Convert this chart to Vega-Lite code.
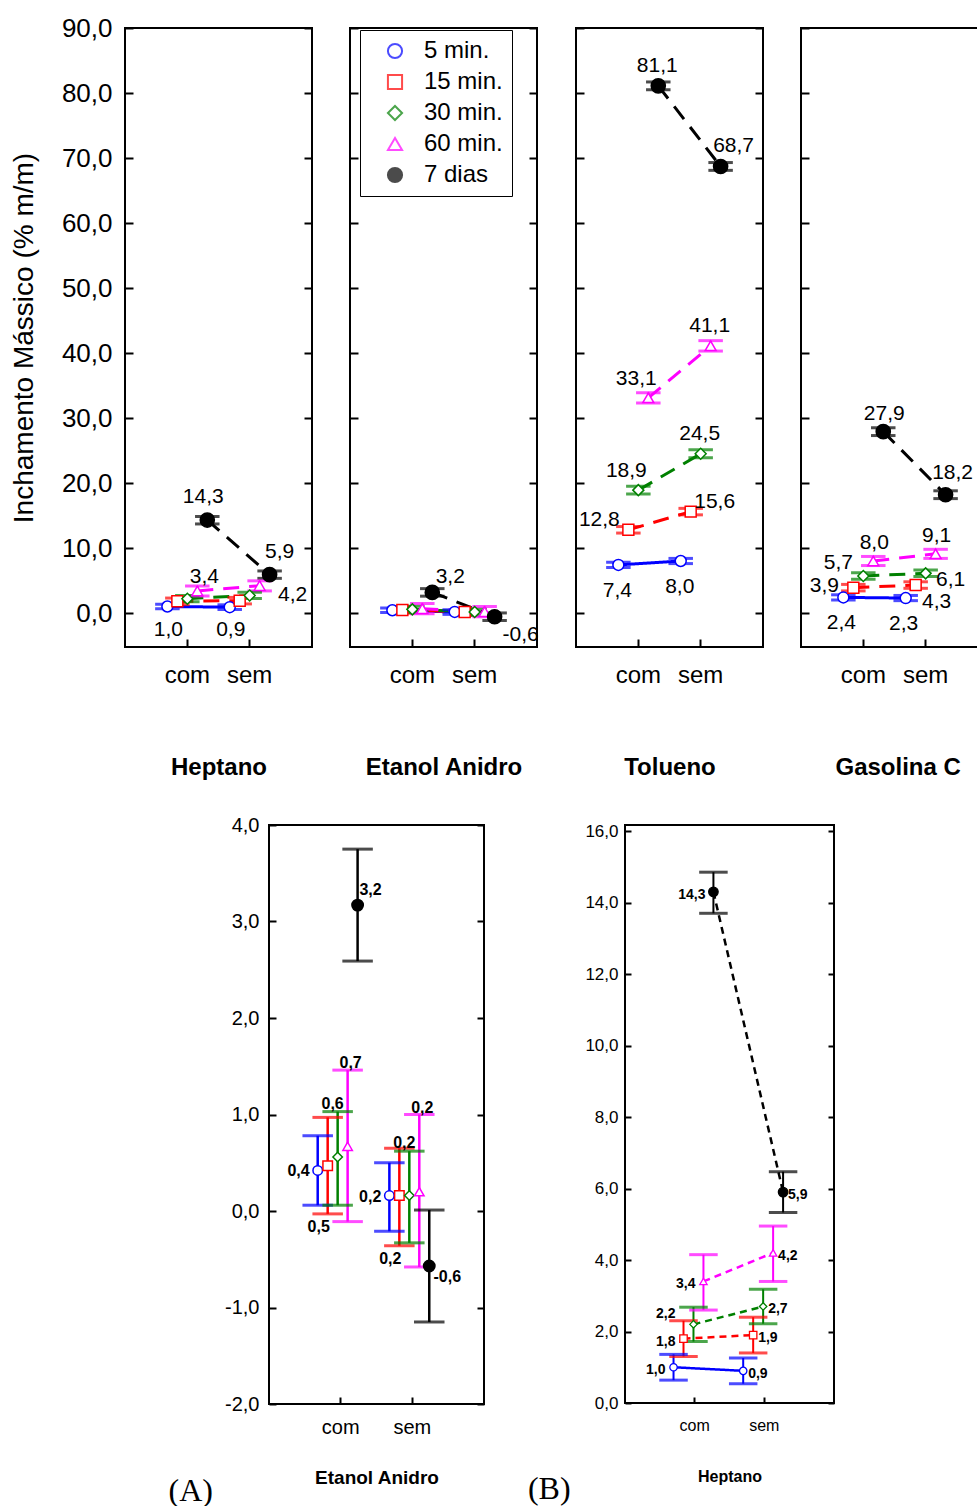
{
  "$schema": "https://vega.github.io/schema/vega-lite/v6.json",
  "background": "white",
  "padding": {"left": 9, "top": 14, "right": 0, "bottom": 0},
  "datasets": {
    "topo": [
      {"painel": "Heptano", "serie": "5 min.", "cond": "com", "valor": 1.0, "min": 0.64, "max": 1.36},
      {"painel": "Heptano", "serie": "5 min.", "cond": "sem", "valor": 0.9, "min": 0.54, "max": 1.26},
      {"painel": "Heptano", "serie": "15 min.", "cond": "com", "valor": 1.8, "min": 1.3, "max": 2.3},
      {"painel": "Heptano", "serie": "15 min.", "cond": "sem", "valor": 1.9, "min": 1.4, "max": 2.4},
      {"painel": "Heptano", "serie": "30 min.", "cond": "com", "valor": 2.2, "min": 1.72, "max": 2.68},
      {"painel": "Heptano", "serie": "30 min.", "cond": "sem", "valor": 2.7, "min": 2.22, "max": 3.18},
      {"painel": "Heptano", "serie": "60 min.", "cond": "com", "valor": 3.4, "min": 2.6, "max": 4.15},
      {"painel": "Heptano", "serie": "60 min.", "cond": "sem", "valor": 4.2, "min": 3.4, "max": 4.95},
      {"painel": "Heptano", "serie": "7 dias", "cond": "com", "valor": 14.3, "min": 13.7, "max": 14.85},
      {"painel": "Heptano", "serie": "7 dias", "cond": "sem", "valor": 5.9, "min": 5.33, "max": 6.47},
      {"painel": "Etanol Anidro", "serie": "5 min.", "cond": "com", "valor": 0.42, "min": 0.06, "max": 0.78},
      {"painel": "Etanol Anidro", "serie": "5 min.", "cond": "sem", "valor": 0.16, "min": -0.21, "max": 0.5},
      {"painel": "Etanol Anidro", "serie": "15 min.", "cond": "com", "valor": 0.47, "min": -0.03, "max": 0.97},
      {"painel": "Etanol Anidro", "serie": "15 min.", "cond": "sem", "valor": 0.16, "min": -0.36, "max": 0.65},
      {"painel": "Etanol Anidro", "serie": "30 min.", "cond": "com", "valor": 0.56, "min": 0.06, "max": 1.03},
      {"painel": "Etanol Anidro", "serie": "30 min.", "cond": "sem", "valor": 0.16, "min": -0.33, "max": 0.62},
      {"painel": "Etanol Anidro", "serie": "60 min.", "cond": "com", "valor": 0.67, "min": -0.11, "max": 1.46},
      {"painel": "Etanol Anidro", "serie": "60 min.", "cond": "sem", "valor": 0.2, "min": -0.58, "max": 1.0},
      {"painel": "Etanol Anidro", "serie": "7 dias", "cond": "com", "valor": 3.17, "min": 2.59, "max": 3.75},
      {"painel": "Etanol Anidro", "serie": "7 dias", "cond": "sem", "valor": -0.57, "min": -1.15, "max": 0.01},
      {"painel": "Tolueno", "serie": "5 min.", "cond": "com", "valor": 7.4, "min": 7.0, "max": 7.8},
      {"painel": "Tolueno", "serie": "5 min.", "cond": "sem", "valor": 8.0, "min": 7.6, "max": 8.4},
      {"painel": "Tolueno", "serie": "15 min.", "cond": "com", "valor": 12.8, "min": 12.3, "max": 13.3},
      {"painel": "Tolueno", "serie": "15 min.", "cond": "sem", "valor": 15.6, "min": 15.1, "max": 16.1},
      {"painel": "Tolueno", "serie": "30 min.", "cond": "com", "valor": 18.9, "min": 18.3, "max": 19.5},
      {"painel": "Tolueno", "serie": "30 min.", "cond": "sem", "valor": 24.5, "min": 23.9, "max": 25.1},
      {"painel": "Tolueno", "serie": "60 min.", "cond": "com", "valor": 33.1, "min": 32.3, "max": 33.9},
      {"painel": "Tolueno", "serie": "60 min.", "cond": "sem", "valor": 41.1, "min": 40.3, "max": 41.9},
      {"painel": "Tolueno", "serie": "7 dias", "cond": "com", "valor": 81.1, "min": 80.5, "max": 81.7},
      {"painel": "Tolueno", "serie": "7 dias", "cond": "sem", "valor": 68.7, "min": 68.1, "max": 69.3},
      {"painel": "Gasolina C", "serie": "5 min.", "cond": "com", "valor": 2.4, "min": 2.0, "max": 2.8},
      {"painel": "Gasolina C", "serie": "5 min.", "cond": "sem", "valor": 2.3, "min": 1.9, "max": 2.7},
      {"painel": "Gasolina C", "serie": "15 min.", "cond": "com", "valor": 3.9, "min": 3.4, "max": 4.4},
      {"painel": "Gasolina C", "serie": "15 min.", "cond": "sem", "valor": 4.3, "min": 3.8, "max": 4.8},
      {"painel": "Gasolina C", "serie": "30 min.", "cond": "com", "valor": 5.7, "min": 5.2, "max": 6.2},
      {"painel": "Gasolina C", "serie": "30 min.", "cond": "sem", "valor": 6.1, "min": 5.6, "max": 6.6},
      {"painel": "Gasolina C", "serie": "60 min.", "cond": "com", "valor": 8.0, "min": 7.3, "max": 8.7},
      {"painel": "Gasolina C", "serie": "60 min.", "cond": "sem", "valor": 9.1, "min": 8.4, "max": 9.8},
      {"painel": "Gasolina C", "serie": "7 dias", "cond": "com", "valor": 27.9, "min": 27.3, "max": 28.5},
      {"painel": "Gasolina C", "serie": "7 dias", "cond": "sem", "valor": 18.2, "min": 17.6, "max": 18.8}
    ]
  },
  "data": {"name": "topo"},
  "vconcat": [
    {
      "hconcat": [
        {
          "width": 187, "height": 619,
          "transform": [{"filter": "datum.painel === 'Heptano'"}],
          "encoding": {
            "x": {"field": "cond", "type": "nominal", "scale": {"domain": ["com", "sem"], "paddingInner": 0.2, "paddingOuter": 0.6},
              "axis": {"title": "Heptano", "labelAngle": 0, "tickSize": -8, "labelFontSize": 24, "labelPadding": 24, "titleFontSize": 24, "titleFontWeight": "bold", "titlePadding": 68}},
            "xOffset": {"field": "serie", "type": "nominal", "scale": {"domain": ["5 min.", "15 min.", "30 min.", "60 min.", "7 dias"], "paddingInner": 0, "paddingOuter": 0}}
          },
          "layer": [
            {"mark": {"type": "line", "strokeWidth": 3},
              "encoding": {
                "y": {"field": "valor", "type": "quantitative", "scale": {"domain": [-5.23, 90], "nice": false, "zero": false},
                  "axis": {"values": [0, 10, 20, 30, 40, 50, 60, 70, 80, 90], "format": ".1f", "tickSize": -8, "labelFontSize": 26, "labelPadding": 21, "title": "Inchamento Mássico (% m/m)", "titleFontSize": 28, "titleFontWeight": "normal", "titlePadding": 23}},
                "color": {"field": "serie", "type": "nominal", "scale": {"domain": ["5 min.", "15 min.", "30 min.", "60 min.", "7 dias"], "range": ["#0000ff", "#ff0000", "#008000", "#ff00ff", "#000000"]}},
                "strokeDash": {"field": "serie", "type": "nominal", "scale": {"domain": ["5 min.", "15 min.", "30 min.", "60 min.", "7 dias"], "range": [[1, 0], [16, 10], [16, 10], [16, 10], [16, 10]]}, "legend": null}
              }},
            {"mark": {"type": "rule", "strokeWidth": 2.5},
              "encoding": {
                "y": {"field": "min", "type": "quantitative", "scale": {"domain": [-5.23, 90], "nice": false, "zero": false},
                  "axis": {"orient": "right", "values": [0, 10, 20, 30, 40, 50, 60, 70, 80, 90], "labels": false, "tickSize": -8, "title": null}},
                "y2": {"field": "max"},
                "color": {"field": "serie", "type": "nominal"}
              }},
            {"mark": {"type": "tick", "filled": false, "size": 22, "thickness": 0.5, "strokeWidth": 2.5},
              "encoding": {"y": {"field": "min", "type": "quantitative", "scale": {"domain": [-5.23, 90], "nice": false, "zero": false}, "axis": null}, "color": {"field": "serie", "type": "nominal"}}},
            {"mark": {"type": "tick", "filled": false, "size": 22, "thickness": 0.5, "strokeWidth": 2.5},
              "encoding": {"y": {"field": "max", "type": "quantitative", "scale": {"domain": [-5.23, 90], "nice": false, "zero": false}, "axis": null}, "color": {"field": "serie", "type": "nominal"}}},
            {"transform": [{"filter": "datum.serie !== '7 dias'"}],
              "mark": {"type": "point", "filled": false, "size": 120, "strokeWidth": 1.5, "opacity": 1},
              "encoding": {
                "y": {"field": "valor", "type": "quantitative", "scale": {"domain": [-5.23, 90], "nice": false, "zero": false}, "axis": null},
                "color": {"field": "serie", "type": "nominal"},
                "shape": {"field": "serie", "type": "nominal", "scale": {"domain": ["5 min.", "15 min.", "30 min.", "60 min.", "7 dias"], "range": ["circle", "square", "diamond", "triangle-up", "circle"]}},
                "fill": {"field": "serie", "type": "nominal", "scale": {"domain": ["5 min.", "15 min.", "30 min.", "60 min.", "7 dias"], "range": ["#ffffff", "#ffffff", "#ffffff", "#ffffff", "#000000"]}}
              }},
            {"transform": [{"filter": "datum.serie === '7 dias'"}],
              "mark": {"type": "point", "filled": false, "size": 200, "strokeWidth": 1.5, "opacity": 1},
              "encoding": {
                "y": {"field": "valor", "type": "quantitative", "scale": {"domain": [-5.23, 90], "nice": false, "zero": false}, "axis": null},
                "color": {"field": "serie", "type": "nominal"},
                "shape": {"field": "serie", "type": "nominal"},
                "fill": {"field": "serie", "type": "nominal"}
              }},
            {"transform": [{"filter": "datum.serie === '7 dias' && datum.cond === 'com'"}],
              "mark": {"type": "text", "fontSize": 21, "dx": -4, "dy": -23},
              "encoding": {"y": {"field": "valor", "type": "quantitative", "scale": {"domain": [-5.23, 90], "nice": false, "zero": false}, "axis": null}, "text": {"field": "valor", "type": "quantitative", "format": ".1f"}}},
            {"transform": [{"filter": "datum.serie === '7 dias' && datum.cond === 'sem'"}],
              "mark": {"type": "text", "fontSize": 21, "dx": 10, "dy": -23},
              "encoding": {"y": {"field": "valor", "type": "quantitative", "scale": {"domain": [-5.23, 90], "nice": false, "zero": false}, "axis": null}, "text": {"field": "valor", "type": "quantitative", "format": ".1f"}}},
            {"transform": [{"filter": "datum.serie === '60 min.' && datum.cond === 'com'"}],
              "mark": {"type": "text", "fontSize": 21, "dx": 7, "dy": -14},
              "encoding": {"y": {"field": "valor", "type": "quantitative", "scale": {"domain": [-5.23, 90], "nice": false, "zero": false}, "axis": null}, "text": {"field": "valor", "type": "quantitative", "format": ".1f"}}},
            {"transform": [{"filter": "datum.serie === '60 min.' && datum.cond === 'sem'"}],
              "mark": {"type": "text", "fontSize": 21, "dx": 33, "dy": 9},
              "encoding": {"y": {"field": "valor", "type": "quantitative", "scale": {"domain": [-5.23, 90], "nice": false, "zero": false}, "axis": null}, "text": {"field": "valor", "type": "quantitative", "format": ".1f"}}},
            {"transform": [{"filter": "datum.serie === '5 min.'"}],
              "mark": {"type": "text", "fontSize": 21, "dx": 1, "dy": 23},
              "encoding": {"y": {"field": "valor", "type": "quantitative", "scale": {"domain": [-5.23, 90], "nice": false, "zero": false}, "axis": null}, "text": {"field": "valor", "type": "quantitative", "format": ".1f"}}}
          ],
          "resolve": {"axis": {"y": "independent"}}
        },
        {
          "width": 187, "height": 619,
          "transform": [{"filter": "datum.painel === 'Etanol Anidro'"}],
          "encoding": {
            "x": {"field": "cond", "type": "nominal", "scale": {"domain": ["com", "sem"], "paddingInner": 0.2, "paddingOuter": 0.6},
              "axis": {"title": "Etanol Anidro", "labelAngle": 0, "tickSize": -8, "labelFontSize": 24, "labelPadding": 24, "titleFontSize": 24, "titleFontWeight": "bold", "titlePadding": 68}},
            "xOffset": {"field": "serie", "type": "nominal", "scale": {"domain": ["5 min.", "15 min.", "30 min.", "60 min.", "7 dias"], "paddingInner": 0, "paddingOuter": 0}}
          },
          "layer": [
            {"mark": {"type": "line", "strokeWidth": 3},
              "encoding": {
                "y": {"field": "valor", "type": "quantitative", "scale": {"domain": [-5.23, 90], "nice": false, "zero": false},
                  "axis": {"values": [0, 10, 20, 30, 40, 50, 60, 70, 80, 90], "labels": false, "tickSize": -8, "title": null}},
                "color": {"field": "serie", "type": "nominal"},
                "strokeDash": {"field": "serie", "type": "nominal", "legend": null}
              }},
            {"mark": {"type": "rule", "strokeWidth": 2.5},
              "encoding": {
                "y": {"field": "min", "type": "quantitative", "scale": {"domain": [-5.23, 90], "nice": false, "zero": false},
                  "axis": {"orient": "right", "values": [0, 10, 20, 30, 40, 50, 60, 70, 80, 90], "labels": false, "tickSize": -8, "title": null}},
                "y2": {"field": "max"},
                "color": {"field": "serie", "type": "nominal"}
              }},
            {"mark": {"type": "tick", "filled": false, "size": 22, "thickness": 0.5, "strokeWidth": 2.5},
              "encoding": {"y": {"field": "min", "type": "quantitative", "scale": {"domain": [-5.23, 90], "nice": false, "zero": false}, "axis": null}, "color": {"field": "serie", "type": "nominal"}}},
            {"mark": {"type": "tick", "filled": false, "size": 22, "thickness": 0.5, "strokeWidth": 2.5},
              "encoding": {"y": {"field": "max", "type": "quantitative", "scale": {"domain": [-5.23, 90], "nice": false, "zero": false}, "axis": null}, "color": {"field": "serie", "type": "nominal"}}},
            {"transform": [{"filter": "datum.serie !== '7 dias'"}],
              "mark": {"type": "point", "filled": false, "size": 120, "strokeWidth": 1.5, "opacity": 1},
              "encoding": {
                "y": {"field": "valor", "type": "quantitative", "scale": {"domain": [-5.23, 90], "nice": false, "zero": false}, "axis": null},
                "color": {"field": "serie", "type": "nominal",
                  "legend": {"title": null, "orient": "none", "legendX": 235, "legendY": 2, "labelFontSize": 24, "labelFont": "Liberation Sans", "labelColor": "black", "symbolSize": 200, "symbolStrokeWidth": 2, "strokeColor": "black", "fillColor": "white", "padding": 9, "rowPadding": 7, "labelOffset": 17, "symbolOffset": 14}},
                "shape": {"field": "serie", "type": "nominal"},
                "fill": {"field": "serie", "type": "nominal"}
              }},
            {"transform": [{"filter": "datum.serie === '7 dias'"}],
              "mark": {"type": "point", "filled": false, "size": 200, "strokeWidth": 1.5, "opacity": 1},
              "encoding": {
                "y": {"field": "valor", "type": "quantitative", "scale": {"domain": [-5.23, 90], "nice": false, "zero": false}, "axis": null},
                "color": {"field": "serie", "type": "nominal"},
                "shape": {"field": "serie", "type": "nominal"},
                "fill": {"field": "serie", "type": "nominal"}
              }},
            {"transform": [{"filter": "datum.serie === '7 dias' && datum.cond === 'com'"}],
              "mark": {"type": "text", "fontSize": 21, "dx": 18, "dy": -15},
              "encoding": {"y": {"field": "valor", "type": "quantitative", "scale": {"domain": [-5.23, 90], "nice": false, "zero": false}, "axis": null}, "text": {"field": "valor", "type": "quantitative", "format": ".1f"}}},
            {"transform": [{"filter": "datum.serie === '7 dias' && datum.cond === 'sem'"}],
              "mark": {"type": "text", "fontSize": 21, "dx": 26, "dy": 18},
              "encoding": {"y": {"field": "valor", "type": "quantitative", "scale": {"domain": [-5.23, 90], "nice": false, "zero": false}, "axis": null}, "text": {"field": "valor", "type": "quantitative", "format": ".1f"}}}
          ],
          "resolve": {"axis": {"y": "independent"}}
        },
        {
          "width": 187, "height": 619,
          "transform": [{"filter": "datum.painel === 'Tolueno'"}],
          "encoding": {
            "x": {"field": "cond", "type": "nominal", "scale": {"domain": ["com", "sem"], "paddingInner": 0.2, "paddingOuter": 0.6},
              "axis": {"title": "Tolueno", "labelAngle": 0, "tickSize": -8, "labelFontSize": 24, "labelPadding": 24, "titleFontSize": 24, "titleFontWeight": "bold", "titlePadding": 68}},
            "xOffset": {"field": "serie", "type": "nominal", "scale": {"domain": ["5 min.", "15 min.", "30 min.", "60 min.", "7 dias"], "paddingInner": 0, "paddingOuter": 0}}
          },
          "layer": [
            {"mark": {"type": "line", "strokeWidth": 3},
              "encoding": {
                "y": {"field": "valor", "type": "quantitative", "scale": {"domain": [-5.23, 90], "nice": false, "zero": false},
                  "axis": {"values": [0, 10, 20, 30, 40, 50, 60, 70, 80, 90], "labels": false, "tickSize": -8, "title": null}},
                "color": {"field": "serie", "type": "nominal"},
                "strokeDash": {"field": "serie", "type": "nominal", "legend": null}
              }},
            {"mark": {"type": "rule", "strokeWidth": 2.5},
              "encoding": {
                "y": {"field": "min", "type": "quantitative", "scale": {"domain": [-5.23, 90], "nice": false, "zero": false},
                  "axis": {"orient": "right", "values": [0, 10, 20, 30, 40, 50, 60, 70, 80, 90], "labels": false, "tickSize": -8, "title": null}},
                "y2": {"field": "max"},
                "color": {"field": "serie", "type": "nominal"}
              }},
            {"mark": {"type": "tick", "filled": false, "size": 22, "thickness": 0.5, "strokeWidth": 2.5},
              "encoding": {"y": {"field": "min", "type": "quantitative", "scale": {"domain": [-5.23, 90], "nice": false, "zero": false}, "axis": null}, "color": {"field": "serie", "type": "nominal"}}},
            {"mark": {"type": "tick", "filled": false, "size": 22, "thickness": 0.5, "strokeWidth": 2.5},
              "encoding": {"y": {"field": "max", "type": "quantitative", "scale": {"domain": [-5.23, 90], "nice": false, "zero": false}, "axis": null}, "color": {"field": "serie", "type": "nominal"}}},
            {"transform": [{"filter": "datum.serie !== '7 dias'"}],
              "mark": {"type": "point", "filled": false, "size": 120, "strokeWidth": 1.5, "opacity": 1},
              "encoding": {
                "y": {"field": "valor", "type": "quantitative", "scale": {"domain": [-5.23, 90], "nice": false, "zero": false}, "axis": null},
                "color": {"field": "serie", "type": "nominal"},
                "shape": {"field": "serie", "type": "nominal"},
                "fill": {"field": "serie", "type": "nominal"}
              }},
            {"transform": [{"filter": "datum.serie === '7 dias'"}],
              "mark": {"type": "point", "filled": false, "size": 200, "strokeWidth": 1.5, "opacity": 1},
              "encoding": {
                "y": {"field": "valor", "type": "quantitative", "scale": {"domain": [-5.23, 90], "nice": false, "zero": false}, "axis": null},
                "color": {"field": "serie", "type": "nominal"},
                "shape": {"field": "serie", "type": "nominal"},
                "fill": {"field": "serie", "type": "nominal"}
              }},
            {"transform": [{"filter": "(datum.serie === '7 dias' && datum.cond === 'com') || (datum.cond === 'sem' && (datum.serie === '60 min.' || datum.serie === '30 min.'))"}],
              "mark": {"type": "text", "fontSize": 21, "dx": -1, "dy": -20},
              "encoding": {"y": {"field": "valor", "type": "quantitative", "scale": {"domain": [-5.23, 90], "nice": false, "zero": false}, "axis": null}, "text": {"field": "valor", "type": "quantitative", "format": ".1f"}}},
            {"transform": [{"filter": "datum.serie === '7 dias' && datum.cond === 'sem'"}],
              "mark": {"type": "text", "fontSize": 21, "dx": 13, "dy": -20},
              "encoding": {"y": {"field": "valor", "type": "quantitative", "scale": {"domain": [-5.23, 90], "nice": false, "zero": false}, "axis": null}, "text": {"field": "valor", "type": "quantitative", "format": ".1f"}}},
            {"transform": [{"filter": "datum.cond === 'com' && (datum.serie === '60 min.' || datum.serie === '30 min.')"}],
              "mark": {"type": "text", "fontSize": 21, "dx": -12, "dy": -19},
              "encoding": {"y": {"field": "valor", "type": "quantitative", "scale": {"domain": [-5.23, 90], "nice": false, "zero": false}, "axis": null}, "text": {"field": "valor", "type": "quantitative", "format": ".1f"}}},
            {"transform": [{"filter": "datum.serie === '15 min.' && datum.cond === 'com'"}],
              "mark": {"type": "text", "fontSize": 21, "dx": -29, "dy": -10},
              "encoding": {"y": {"field": "valor", "type": "quantitative", "scale": {"domain": [-5.23, 90], "nice": false, "zero": false}, "axis": null}, "text": {"field": "valor", "type": "quantitative", "format": ".1f"}}},
            {"transform": [{"filter": "datum.serie === '15 min.' && datum.cond === 'sem'"}],
              "mark": {"type": "text", "fontSize": 21, "dx": 24, "dy": -10},
              "encoding": {"y": {"field": "valor", "type": "quantitative", "scale": {"domain": [-5.23, 90], "nice": false, "zero": false}, "axis": null}, "text": {"field": "valor", "type": "quantitative", "format": ".1f"}}},
            {"transform": [{"filter": "datum.serie === '5 min.'"}],
              "mark": {"type": "text", "fontSize": 21, "dx": -1, "dy": 26},
              "encoding": {"y": {"field": "valor", "type": "quantitative", "scale": {"domain": [-5.23, 90], "nice": false, "zero": false}, "axis": null}, "text": {"field": "valor", "type": "quantitative", "format": ".1f"}}}
          ],
          "resolve": {"axis": {"y": "independent"}}
        },
        {
          "width": 178, "height": 619,
          "transform": [{"filter": "datum.painel === 'Gasolina C'"}],
          "encoding": {
            "x": {"field": "cond", "type": "nominal", "scale": {"domain": ["com", "sem"], "paddingInner": 0.2, "paddingOuter": 0.5278, "align": 0.568},
              "axis": {"title": "Gasolina C", "titleAnchor": "start", "titleX": 34, "labelAngle": 0, "tickSize": -8, "labelFontSize": 24, "labelPadding": 24, "titleFontSize": 24, "titleFontWeight": "bold", "titlePadding": 68}},
            "xOffset": {"field": "serie", "type": "nominal", "scale": {"domain": ["5 min.", "15 min.", "30 min.", "60 min.", "7 dias"], "paddingInner": 0, "paddingOuter": 0}}
          },
          "layer": [
            {"mark": {"type": "line", "strokeWidth": 3},
              "encoding": {
                "y": {"field": "valor", "type": "quantitative", "scale": {"domain": [-5.23, 90], "nice": false, "zero": false},
                  "axis": {"values": [0, 10, 20, 30, 40, 50, 60, 70, 80, 90], "labels": false, "tickSize": -8, "title": null}},
                "color": {"field": "serie", "type": "nominal"},
                "strokeDash": {"field": "serie", "type": "nominal", "legend": null}
              }},
            {"mark": {"type": "rule", "strokeWidth": 2.5},
              "encoding": {
                "y": {"field": "min", "type": "quantitative", "scale": {"domain": [-5.23, 90], "nice": false, "zero": false}, "axis": null},
                "y2": {"field": "max"},
                "color": {"field": "serie", "type": "nominal"}
              }},
            {"mark": {"type": "tick", "filled": false, "size": 22, "thickness": 0.5, "strokeWidth": 2.5},
              "encoding": {"y": {"field": "min", "type": "quantitative", "scale": {"domain": [-5.23, 90], "nice": false, "zero": false}, "axis": null}, "color": {"field": "serie", "type": "nominal"}}},
            {"mark": {"type": "tick", "filled": false, "size": 22, "thickness": 0.5, "strokeWidth": 2.5},
              "encoding": {"y": {"field": "max", "type": "quantitative", "scale": {"domain": [-5.23, 90], "nice": false, "zero": false}, "axis": null}, "color": {"field": "serie", "type": "nominal"}}},
            {"transform": [{"filter": "datum.serie !== '7 dias'"}],
              "mark": {"type": "point", "filled": false, "size": 120, "strokeWidth": 1.5, "opacity": 1},
              "encoding": {
                "y": {"field": "valor", "type": "quantitative", "scale": {"domain": [-5.23, 90], "nice": false, "zero": false}, "axis": null},
                "color": {"field": "serie", "type": "nominal"},
                "shape": {"field": "serie", "type": "nominal"},
                "fill": {"field": "serie", "type": "nominal"}
              }},
            {"transform": [{"filter": "datum.serie === '7 dias'"}],
              "mark": {"type": "point", "filled": false, "size": 200, "strokeWidth": 1.5, "opacity": 1},
              "encoding": {
                "y": {"field": "valor", "type": "quantitative", "scale": {"domain": [-5.23, 90], "nice": false, "zero": false}, "axis": null},
                "color": {"field": "serie", "type": "nominal"},
                "shape": {"field": "serie", "type": "nominal"},
                "fill": {"field": "serie", "type": "nominal"}
              }},
            {"transform": [{"filter": "(datum.serie === '7 dias' && datum.cond === 'com') || datum.serie === '60 min.'"}],
              "mark": {"type": "text", "fontSize": 21, "dx": 1, "dy": -18},
              "encoding": {"y": {"field": "valor", "type": "quantitative", "scale": {"domain": [-5.23, 90], "nice": false, "zero": false}, "axis": null}, "text": {"field": "valor", "type": "quantitative", "format": ".1f"}}},
            {"transform": [{"filter": "datum.serie === '7 dias' && datum.cond === 'sem'"}],
              "mark": {"type": "text", "fontSize": 21, "dx": 7, "dy": -22},
              "encoding": {"y": {"field": "valor", "type": "quantitative", "scale": {"domain": [-5.23, 90], "nice": false, "zero": false}, "axis": null}, "text": {"field": "valor", "type": "quantitative", "format": ".1f"}}},
            {"transform": [{"filter": "datum.cond === 'com' && datum.serie === '30 min.'"}],
              "mark": {"type": "text", "fontSize": 21, "dx": -25, "dy": -13},
              "encoding": {"y": {"field": "valor", "type": "quantitative", "scale": {"domain": [-5.23, 90], "nice": false, "zero": false}, "axis": null}, "text": {"field": "valor", "type": "quantitative", "format": ".1f"}}},
            {"transform": [{"filter": "datum.cond === 'com' && datum.serie === '15 min.'"}],
              "mark": {"type": "text", "fontSize": 21, "dx": -29, "dy": -2},
              "encoding": {"y": {"field": "valor", "type": "quantitative", "scale": {"domain": [-5.23, 90], "nice": false, "zero": false}, "axis": null}, "text": {"field": "valor", "type": "quantitative", "format": ".1f"}}},
            {"transform": [{"filter": "datum.cond === 'sem' && datum.serie === '30 min.'"}],
              "mark": {"type": "text", "fontSize": 21, "dx": 25, "dy": 7},
              "encoding": {"y": {"field": "valor", "type": "quantitative", "scale": {"domain": [-5.23, 90], "nice": false, "zero": false}, "axis": null}, "text": {"field": "valor", "type": "quantitative", "format": ".1f"}}},
            {"transform": [{"filter": "datum.cond === 'sem' && datum.serie === '15 min.'"}],
              "mark": {"type": "text", "fontSize": 21, "dx": 21, "dy": 17},
              "encoding": {"y": {"field": "valor", "type": "quantitative", "scale": {"domain": [-5.23, 90], "nice": false, "zero": false}, "axis": null}, "text": {"field": "valor", "type": "quantitative", "format": ".1f"}}},
            {"transform": [{"filter": "datum.serie === '5 min.'"}],
              "mark": {"type": "text", "fontSize": 21, "dx": -2, "dy": 26},
              "encoding": {"y": {"field": "valor", "type": "quantitative", "scale": {"domain": [-5.23, 90], "nice": false, "zero": false}, "axis": null}, "text": {"field": "valor", "type": "quantitative", "format": ".1f"}}}
          ],
          "resolve": {"axis": {"y": "independent"}}
        }
      ],
      "spacing": 34
    },
    {
      "hconcat": [
        {
          "width": 215, "height": 579,
          "title": {"text": "(A)", "orient": "bottom", "anchor": "start", "font": "Liberation Serif", "fontSize": 32, "fontWeight": "normal", "dx": -56, "dy": -15},
          "transform": [{"filter": "datum.painel === 'Etanol Anidro'"}],
          "encoding": {
            "x": {"field": "cond", "type": "nominal", "scale": {"domain": ["com", "sem"], "paddingInner": 0.22, "paddingOuter": 0.61},
              "axis": {"title": "Etanol Anidro", "labelAngle": 0, "tickSize": -7, "labelFontSize": 20, "labelPadding": 20, "titleFontSize": 19, "titleFontWeight": "bold", "titlePadding": 31}},
            "xOffset": {"field": "serie", "type": "nominal", "scale": {"domain": ["5 min.", "15 min.", "30 min.", "60 min.", "7 dias"], "paddingInner": 0, "paddingOuter": 0}}
          },
          "layer": [
            {"mark": {"type": "rule", "strokeWidth": 2.5},
              "encoding": {
                "y": {"field": "min", "type": "quantitative", "scale": {"domain": [-2, 4], "nice": false, "zero": false},
                  "axis": {"values": [-2, -1, 0, 1, 2, 3, 4], "format": ".1f", "tickSize": -7, "labelFontSize": 20, "labelPadding": 17, "title": null}},
                "y2": {"field": "max"},
                "color": {"field": "serie", "type": "nominal"}
              }},
            {"mark": {"type": "tick", "filled": false, "size": 28, "thickness": 0.5, "strokeWidth": 2.5},
              "encoding": {"y": {"field": "min", "type": "quantitative", "scale": {"domain": [-2, 4], "nice": false, "zero": false},
                  "axis": {"orient": "right", "values": [-2, -1, 0, 1, 2, 3, 4], "labels": false, "tickSize": -7, "title": null}},
                "color": {"field": "serie", "type": "nominal"}}},
            {"mark": {"type": "tick", "filled": false, "size": 28, "thickness": 0.5, "strokeWidth": 2.5},
              "encoding": {"y": {"field": "max", "type": "quantitative", "scale": {"domain": [-2, 4], "nice": false, "zero": false}, "axis": null}, "color": {"field": "serie", "type": "nominal"}}},
            {"transform": [{"filter": "datum.serie !== '7 dias'"}],
              "mark": {"type": "point", "filled": false, "size": 90, "strokeWidth": 1.5, "opacity": 1},
              "encoding": {
                "y": {"field": "valor", "type": "quantitative", "scale": {"domain": [-2, 4], "nice": false, "zero": false}, "axis": null},
                "color": {"field": "serie", "type": "nominal"},
                "shape": {"field": "serie", "type": "nominal"},
                "fill": {"field": "serie", "type": "nominal"}
              }},
            {"transform": [{"filter": "datum.serie === '7 dias'"}],
              "mark": {"type": "point", "filled": false, "size": 130, "strokeWidth": 1.5, "opacity": 1},
              "encoding": {
                "y": {"field": "valor", "type": "quantitative", "scale": {"domain": [-2, 4], "nice": false, "zero": false}, "axis": null},
                "color": {"field": "serie", "type": "nominal"},
                "shape": {"field": "serie", "type": "nominal"},
                "fill": {"field": "serie", "type": "nominal"}
              }},
            {"transform": [{"filter": "datum.serie === '5 min.'"}],
              "mark": {"type": "text", "fontSize": 16, "fontWeight": "bold", "align": "right", "dx": -8, "dy": 1},
              "encoding": {"y": {"field": "valor", "type": "quantitative", "scale": {"domain": [-2, 4], "nice": false, "zero": false}, "axis": null}, "text": {"field": "valor", "type": "quantitative", "format": ".1f"}}},
            {"transform": [{"filter": "datum.serie === '15 min.'"}],
              "mark": {"type": "text", "fontSize": 16, "fontWeight": "bold", "dx": -9, "dy": 13},
              "encoding": {"y": {"field": "min", "type": "quantitative", "scale": {"domain": [-2, 4], "nice": false, "zero": false}, "axis": null}, "text": {"field": "valor", "type": "quantitative", "format": ".1f"}}},
            {"transform": [{"filter": "datum.serie === '30 min.'"}],
              "mark": {"type": "text", "fontSize": 16, "fontWeight": "bold", "dx": -5, "dy": -8},
              "encoding": {"y": {"field": "max", "type": "quantitative", "scale": {"domain": [-2, 4], "nice": false, "zero": false}, "axis": null}, "text": {"field": "valor", "type": "quantitative", "format": ".1f"}}},
            {"transform": [{"filter": "datum.serie === '60 min.'"}],
              "mark": {"type": "text", "fontSize": 16, "fontWeight": "bold", "dx": 3, "dy": -7},
              "encoding": {"y": {"field": "max", "type": "quantitative", "scale": {"domain": [-2, 4], "nice": false, "zero": false}, "axis": null}, "text": {"field": "valor", "type": "quantitative", "format": ".1f"}}},
            {"transform": [{"filter": "datum.serie === '7 dias' && datum.cond === 'com'"}],
              "mark": {"type": "text", "fontSize": 16, "fontWeight": "bold", "dx": 13, "dy": -15},
              "encoding": {"y": {"field": "valor", "type": "quantitative", "scale": {"domain": [-2, 4], "nice": false, "zero": false}, "axis": null}, "text": {"field": "valor", "type": "quantitative", "format": ".1f"}}},
            {"transform": [{"filter": "datum.serie === '7 dias' && datum.cond === 'sem'"}],
              "mark": {"type": "text", "fontSize": 16, "fontWeight": "bold", "dx": 18, "dy": 11},
              "encoding": {"y": {"field": "valor", "type": "quantitative", "scale": {"domain": [-2, 4], "nice": false, "zero": false}, "axis": null}, "text": {"field": "valor", "type": "quantitative", "format": ".1f"}}}
          ],
          "resolve": {"axis": {"y": "independent"}}
        },
        {
          "width": 209, "height": 578,
          "title": {"text": "(B)", "orient": "bottom", "anchor": "start", "font": "Liberation Serif", "fontSize": 32, "fontWeight": "normal", "dx": -57, "dy": -14},
          "transform": [{"filter": "datum.painel === 'Heptano'"}],
          "encoding": {
            "x": {"field": "cond", "type": "nominal", "scale": {"domain": ["com", "sem"], "paddingInner": 0.25, "paddingOuter": 0.625},
              "axis": {"title": "Heptano", "labelAngle": 0, "tickSize": -6, "labelFontSize": 16, "labelPadding": 20, "titleFontSize": 16, "titleFontWeight": "bold", "titlePadding": 35}},
            "xOffset": {"field": "serie", "type": "nominal", "scale": {"domain": ["5 min.", "15 min.", "30 min.", "60 min.", "7 dias"], "paddingInner": 0, "paddingOuter": 0}}
          },
          "layer": [
            {"mark": {"type": "line", "strokeWidth": 2.5},
              "encoding": {
                "y": {"field": "valor", "type": "quantitative", "scale": {"domain": [0, 16.17], "nice": false, "zero": false},
                  "axis": {"values": [0, 2, 4, 6, 8, 10, 12, 14, 16], "format": ".1f", "tickSize": -6, "labelFontSize": 17, "labelPadding": 13, "title": null}},
                "color": {"field": "serie", "type": "nominal"},
                "strokeDash": {"field": "serie", "type": "nominal", "scale": {"domain": ["5 min.", "15 min.", "30 min.", "60 min.", "7 dias"], "range": [[1, 0], [7, 5], [7, 5], [7, 5], [7, 5]]}, "legend": null}
              }},
            {"mark": {"type": "rule", "strokeWidth": 2},
              "encoding": {
                "y": {"field": "min", "type": "quantitative", "scale": {"domain": [0, 16.17], "nice": false, "zero": false},
                  "axis": {"orient": "right", "values": [0, 2, 4, 6, 8, 10, 12, 14, 16], "labels": false, "tickSize": -6, "title": null}},
                "y2": {"field": "max"},
                "color": {"field": "serie", "type": "nominal"}
              }},
            {"mark": {"type": "tick", "filled": false, "size": 26, "thickness": 0.5, "strokeWidth": 2.5},
              "encoding": {"y": {"field": "min", "type": "quantitative", "scale": {"domain": [0, 16.17], "nice": false, "zero": false}, "axis": null}, "color": {"field": "serie", "type": "nominal"}}},
            {"mark": {"type": "tick", "filled": false, "size": 26, "thickness": 0.5, "strokeWidth": 2.5},
              "encoding": {"y": {"field": "max", "type": "quantitative", "scale": {"domain": [0, 16.17], "nice": false, "zero": false}, "axis": null}, "color": {"field": "serie", "type": "nominal"}}},
            {"transform": [{"filter": "datum.serie !== '7 dias'"}],
              "mark": {"type": "point", "filled": false, "size": 55, "strokeWidth": 1.3, "opacity": 1},
              "encoding": {
                "y": {"field": "valor", "type": "quantitative", "scale": {"domain": [0, 16.17], "nice": false, "zero": false}, "axis": null},
                "color": {"field": "serie", "type": "nominal"},
                "shape": {"field": "serie", "type": "nominal"},
                "fill": {"field": "serie", "type": "nominal"}
              }},
            {"transform": [{"filter": "datum.serie === '7 dias'"}],
              "mark": {"type": "point", "filled": false, "size": 90, "strokeWidth": 1.3, "opacity": 1},
              "encoding": {
                "y": {"field": "valor", "type": "quantitative", "scale": {"domain": [0, 16.17], "nice": false, "zero": false}, "axis": null},
                "color": {"field": "serie", "type": "nominal"},
                "shape": {"field": "serie", "type": "nominal"},
                "fill": {"field": "serie", "type": "nominal"}
              }},
            {"transform": [{"filter": "datum.cond === 'com' && datum.serie !== '30 min.'"}],
              "mark": {"type": "text", "fontSize": 14, "fontWeight": "bold", "align": "right", "dx": -8, "dy": 3},
              "encoding": {"y": {"field": "valor", "type": "quantitative", "scale": {"domain": [0, 16.17], "nice": false, "zero": false}, "axis": null}, "text": {"field": "valor", "type": "quantitative", "format": ".1f"}}},
            {"transform": [{"filter": "datum.cond === 'com' && datum.serie === '30 min.'"}],
              "mark": {"type": "text", "fontSize": 14, "fontWeight": "bold", "align": "right", "dx": -18, "dy": -10},
              "encoding": {"y": {"field": "valor", "type": "quantitative", "scale": {"domain": [0, 16.17], "nice": false, "zero": false}, "axis": null}, "text": {"field": "valor", "type": "quantitative", "format": ".1f"}}},
            {"transform": [{"filter": "datum.cond === 'sem'"}],
              "mark": {"type": "text", "fontSize": 14, "fontWeight": "bold", "align": "left", "dx": 5, "dy": 3},
              "encoding": {"y": {"field": "valor", "type": "quantitative", "scale": {"domain": [0, 16.17], "nice": false, "zero": false}, "axis": null}, "text": {"field": "valor", "type": "quantitative", "format": ".1f"}}}
          ],
          "resolve": {"axis": {"y": "independent"}}
        }
      ],
      "spacing": 40
    }
  ],
  "spacing": 34,
  "center": true,
  "resolve": {"scale": {"strokeDash": "independent"}},
  "config": {
    "locale": {"number": {"decimal": ",", "thousands": ".", "grouping": [3], "currency": ["", ""], "minus": "-"}},
    "font": "Liberation Sans",
    "view": {"stroke": "black", "strokeWidth": 2},
    "axis": {"domain": false, "grid": false, "tickColor": "black", "tickWidth": 2, "labelColor": "black", "titleColor": "black", "labelFont": "Liberation Sans", "titleFont": "Liberation Sans"},
    "text": {"font": "Liberation Sans", "color": "black"},
    "title": {"color": "black"}
  }
}
